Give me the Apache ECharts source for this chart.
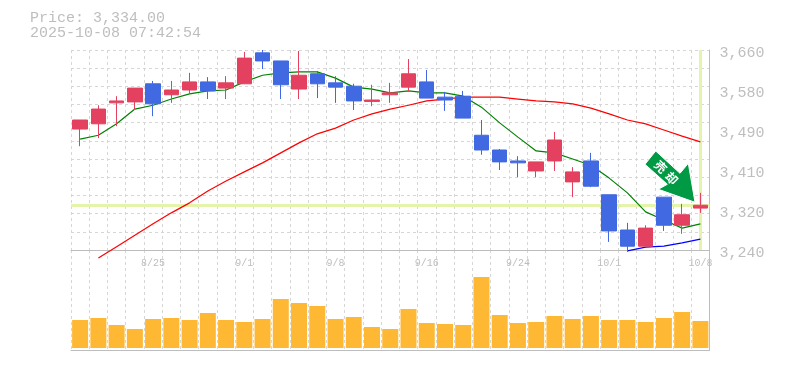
<!DOCTYPE html>
<html>
<head>
<meta charset="utf-8">
<style>html,body{margin:0;padding:0;background:#fff}#c{width:785px;height:370px}</style>
<script src="https://cdn.jsdelivr.net/npm/echarts@6/dist/echarts.min.js"></script>
</head>
<body>
<div id="c"></div>
<script>
const categories = ['8/19','8/20','8/21','8/22','8/25','8/26','8/27','8/28','8/29','9/1','9/2','9/3','9/4','9/5','9/8','9/9','9/10','9/11','9/12','9/16','9/17','9/18','9/19','9/22','9/24','9/25','9/26','9/29','9/30','10/1','10/2','10/3','10/6','10/7','10/8'];
const opens  = [3494,3505,3549,3551,3589,3566,3576,3593,3580,3589,3654,3637,3578,3610,3591,3584,3552,3566,3582,3593,3561,3563,3481,3450,3427,3406,3427,3383,3427,3356,3282,3248,3351,3292,3328];
const closes = [3513,3536,3553,3580,3547,3576,3593,3574,3591,3643,3637,3587,3607,3589,3582,3553,3555,3570,3610,3559,3555,3517,3450,3425,3423,3425,3471,3404,3374,3280,3248,3286,3292,3314,3334];
const lows   = [3458,3475,3500,3534,3521,3549,3568,3557,3557,3589,3620,3557,3557,3559,3549,3534,3542,3549,3572,3559,3532,3517,3440,3408,3393,3393,3406,3351,3372,3257,3236,3246,3280,3274,3318];
const highs  = [3513,3544,3563,3580,3595,3595,3612,3603,3605,3656,3660,3637,3658,3616,3605,3589,3587,3591,3641,3618,3572,3574,3513,3452,3437,3425,3488,3414,3444,3356,3297,3292,3351,3337,3360];
const maShort = [3473,3481,3505,3536,3544,3557,3568,3574,3576,3593,3607,3612,3614,3614,3601,3582,3578,3570,3574,3570,3570,3563,3540,3507,3477,3448,3444,3431,3418,3391,3360,3320,3303,3286,3295];
const maMid = [null,3223,3247,3271,3295,3318,3339,3364,3385,3404,3423,3444,3465,3484,3496,3513,3526,3536,3544,3553,3557,3561,3561,3561,3557,3553,3551,3547,3538,3526,3513,3505,3492,3479,3467];
const maLong = [null,null,null,null,null,null,null,null,null,null,null,null,null,null,null,null,null,null,null,null,null,null,null,null,null,null,null,null,null,null,3238,3246,3248,3255,3263];
const volumes = [28,30,23,19,29,30,28,35,28,26,29,49,45,42,29,31,21,19,39,25,24,23,71,33,25,26,32,29,32,28,28,26,30,36,27];
const priceTickLabels = ['3,240','3,320','3,410','3,490','3,580','3,660'];
const lastPrice = 3334;
const lastDate = '10/8';
const headerLines = ['Price: 3,334.00','2025-10-08 07:42:54'];
const badgeText = '売却';

const FONT = '"Liberation Mono", monospace';
const GREY = '#bebebe', AXIS = '#bdbdbd', GRID = '#d6d6d6';
const dash = {color: GRID, width: 1, type: [3, 3]};
const L = 71, W = 638.5;
const candleData = categories.map((_, i) => [opens[i], closes[i], lows[i], highs[i]]);
const hidden = {axisLabel:{show:false}, axisTick:{show:false}, axisLine:{show:false}, splitLine:{show:false}};
const badgeFont = 'bold 12px "Noto Sans CJK JP", sans-serif';

const option = {
  animation: false,
  backgroundColor: '#fff',
  title: {
    text: headerLines.join('\n'), left: 30, top: 11, padding: 0,
    textStyle: {fontFamily: FONT, fontSize: 15, fontWeight: 'normal', color: GREY, lineHeight: 15}
  },
  grid: [
    {left: L, width: W, top: 50, height: 200},
    {left: L, width: W, top: 250, height: 100},
    {left: L, width: W, top: 53, height: 200}
  ],
  xAxis: [
    {type: 'category', gridIndex: 0, data: categories, boundaryGap: true,
     axisLine: {onZero: false, lineStyle: {color: AXIS, width: 1}}, axisTick: {show: false},
     splitLine: {show: true, interval: 0, lineStyle: dash},
     axisLabel: {show: true, hideOverlap: false, interval: (i) => i % 5 === 4, margin: 8,
                 fontFamily: FONT, fontSize: 10, color: '#bebebe'}},
    {type: 'category', gridIndex: 1, data: categories, boundaryGap: true,
     axisLine: {onZero: false, lineStyle: {color: AXIS, width: 1}}, axisTick: {show: false}, axisLabel: {show: false},
     splitLine: {show: true, interval: 0, lineStyle: dash}},
    {type: 'category', gridIndex: 2, data: categories, ...hidden}
  ],
  yAxis: [
    {type: 'value', gridIndex: 0, min: 3240, max: 3660, position: 'right', ...hidden,
     axisLine: {show: true, onZero: false, lineStyle: {color: AXIS, width: 1}}},
    {type: 'value', gridIndex: 0, min: 0, max: 11, interval: 1, position: 'left', ...hidden,
     splitLine: {show: true, lineStyle: dash}},
    {type: 'value', gridIndex: 1, min: -2, max: 98, position: 'right', ...hidden,
     axisLine: {show: true, onZero: false, lineStyle: {color: AXIS, width: 1}}},
    {type: 'value', gridIndex: 2, min: 0, max: 5, interval: 1, position: 'right', ...hidden,
     axisLabel: {show: true, margin: 10, fontFamily: FONT, fontSize: 15, color: GREY,
                 formatter: (v) => priceTickLabels[v]}}
  ],
  series: [
    {name: 'Last', type: 'line', xAxisIndex: 0, yAxisIndex: 0, z: 1, data: categories.map(() => null),
     markLine: {silent: true, z: 1, symbol: 'none', label: {show: false}, animation: false,
       lineStyle: {color: '#e4f5ab', width: 3, type: 'solid'},
       data: [{yAxis: lastPrice}, {xAxis: lastDate}]}},
    {name: 'MA long', type: 'line', xAxisIndex: 0, yAxisIndex: 0, z: 2, data: maLong, clip: false, showSymbol: false,
     lineStyle: {color: '#0000ff', width: 1.2}},
    {name: 'MA mid', type: 'line', xAxisIndex: 0, yAxisIndex: 0, z: 2, data: maMid, clip: false, showSymbol: false,
     lineStyle: {color: '#ff0000', width: 1.2}},
    {name: 'MA short', type: 'line', xAxisIndex: 0, yAxisIndex: 0, z: 2, data: maShort, clip: false, showSymbol: false,
     lineStyle: {color: '#008000', width: 1.2}},
    {name: 'Price', type: 'candlestick', xAxisIndex: 0, yAxisIndex: 0, z: 3, data: candleData, barWidth: 15, clip: false,
     itemStyle: {color: '#e3415f', color0: '#4169e1', borderColor: '#e3415f', borderColor0: '#4169e1', borderWidth: 1}},
    {name: 'Volume', type: 'bar', xAxisIndex: 1, yAxisIndex: 2, data: volumes, barWidth: 16,
     itemStyle: {color: '#ffb833'}}
  ],
  graphic: [
    {type: 'polygon', z: 100, silent: true,
     shape: {points: [[655.7,151],[645,164.3],[667.3,184.3],[658.3,189.3],[695,202.3],[688.3,163.3],[680,173.3]]},
     style: {fill: '#009944', stroke: '#fff', lineWidth: 1}},
    {type: 'text', z: 101, silent: true, x: 660.7, y: 166.7, rotation: -Math.PI / 4,
     style: {text: badgeText[0], fill: '#fff', align: 'center', verticalAlign: 'middle', font: badgeFont}},
    {type: 'text', z: 101, silent: true, x: 671.7, y: 178.3, rotation: -Math.PI / 4,
     style: {text: badgeText[1], fill: '#fff', align: 'center', verticalAlign: 'middle', font: badgeFont}}
  ]
};
echarts.init(document.getElementById('c'), null, {renderer: 'canvas'}).setOption(option);
</script>
</body>
</html>
